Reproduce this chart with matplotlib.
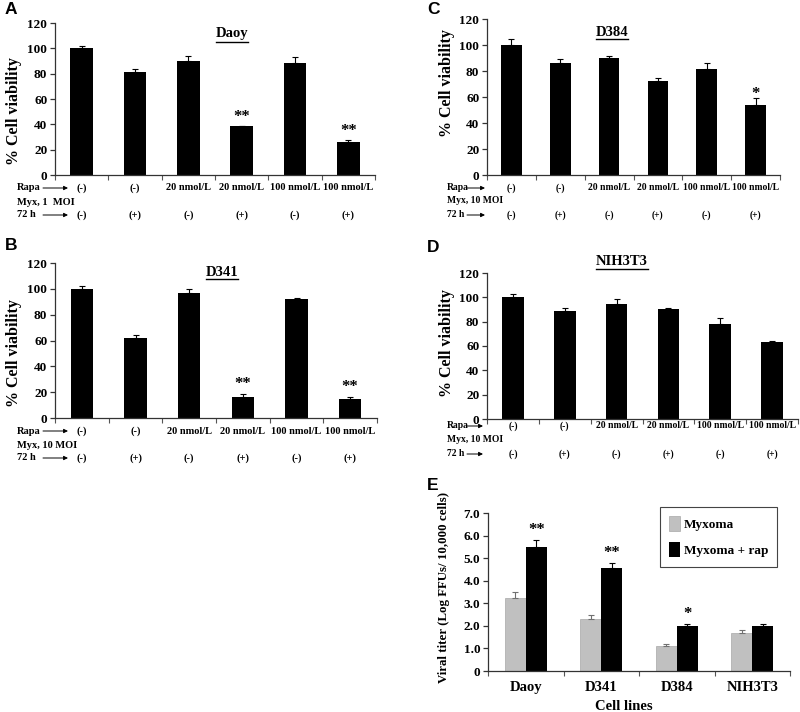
import matplotlib
matplotlib.use('Agg')
import matplotlib.pyplot as plt
from matplotlib.transforms import blended_transform_factory, IdentityTransform
import numpy as np

plt.rcParams['font.family'] = 'Liberation Serif'
plt.rcParams['font.weight'] = 'bold'

W, H = 800, 712

# ---- data ----
rapa_labels = ['(-)', '(-)', '20 nmol/L', '20 nmol/L', '100 nmol/L', '100 nmol/L']
h72_labels = ['(-)', '(+)', '(-)', '(+)', '(-)', '(+)']

daoy_vals = [100, 81, 90, 38.5, 88.5, 26]
daoy_err = [2, 2.5, 4, 0.5, 4.5, 1.5]
daoy_stars = ['', '', '', '**', '', '**']

d341_vals = [100, 62, 96.5, 16, 92.5, 15]
d341_err = [2, 2, 3.5, 2.5, 0.5, 1.5]
d341_stars = ['', '', '', '**', '', '**']

d384_vals = [100, 86, 90, 72.5, 81.5, 53.5]
d384_err = [5, 3, 1.5, 2, 4.5, 6]
d384_stars = ['', '', '', '', '', '*']

nih_vals = [100, 88.5, 94.5, 90.5, 78, 63]
nih_err = [2.5, 3, 4.5, 0.8, 5, 1.5]
nih_stars = ['', '', '', '', '', '']

viab_ticks = [0, 20, 40, 60, 80, 100, 120]

cell_lines = ['Daoy', 'D341', 'D384', 'NIH3T3']
myxoma = [3.25, 2.3, 1.1, 1.7]
myxoma_err = [0.25, 0.2, 0.1, 0.1]
myxoma_rap = [5.5, 4.55, 2.0, 2.0]
myxoma_rap_err = [0.3, 0.22, 0.1, 0.1]
e_stars = ['**', '**', '*', '']
e_ticks = [0, 1, 2, 3, 4, 5, 6, 7]
e_ticklabels = ['0', '1.0', '2.0', '3.0', '4.0', '5.0', '6.0', '7.0']

fig = plt.figure(figsize=(W / 100, H / 100), dpi=100)
pix = IdentityTransform()


def px_axes(x0, y0, x1, y1):
    return fig.add_axes([x0 / W, 1 - y1 / H, (x1 - x0) / W, (y1 - y0) / H])


def style_axes(ax):
    for s in ['top', 'right']:
        ax.spines[s].set_visible(False)
    for s in ['left', 'bottom']:
        ax.spines[s].set_linewidth(0.9)
        ax.spines[s].set_color('#333333')
    ax.tick_params(axis='y', direction='out', length=3.5, width=0.9, labelsize=9.5, pad=2, color='#333333')


underlines = []


def viability_panel(box, letter, letter_xy, title, title_xy, vals, errs, stars,
                    myx_label, ylab_y, row_y, row_x, arrow_x, star_off, row_fs):
    ax = px_axes(*box)
    style_axes(ax)
    x = np.arange(len(vals))
    ax.bar(x, vals, width=0.42, color='black')
    ax.errorbar(x, vals, yerr=[np.zeros(len(errs)), errs], fmt='none',
                ecolor='black', elinewidth=0.8, capsize=2, capthick=0.8)
    ax.set_xlim(-0.5, len(vals) - 0.5)
    ax.set_ylim(0, 120)
    ax.set_yticks(viab_ticks)
    ax.set_xticks([])
    ax.set_xticks(np.arange(len(vals) + 1) - 0.5, minor=True)
    ax.tick_params(axis='x', which='minor', direction='out', length=3.5, width=0.8, color='#555555')
    ax.set_ylabel('% Cell viability', fontsize=11.5, fontweight='bold')
    ax.yaxis.set_label_coords(ylab_y[0], ylab_y[1])
    for xi, v, e, s in zip(x, vals, errs, stars):
        if s:
            ax.annotate(s, (xi, v + e), xytext=(0, star_off), textcoords='offset pixels',
                        ha='center', va='center', fontsize=12, fontweight='bold')
    tr = blended_transform_factory(ax.transData, pix)
    for xi, r, h in zip(x, rapa_labels, h72_labels):
        ax.text(xi, H - row_y[0], r, transform=tr, ha='center', va='center', fontsize=row_fs)
        ax.text(xi, H - row_y[2], h, transform=tr, ha='center', va='center', fontsize=row_fs)
    fig.text(row_x / W, 1 - row_y[0] / H, 'Rapa', ha='left', va='center', fontsize=row_fs)
    fig.text(row_x / W, 1 - row_y[1] / H, myx_label, ha='left', va='center', fontsize=row_fs)
    fig.text(row_x / W, 1 - row_y[2] / H, '72 h', ha='left', va='center', fontsize=row_fs)
    for ry in (row_y[0], row_y[2]):
        ax.annotate('', xy=(arrow_x[1], H - ry), xytext=(arrow_x[0], H - ry),
                    xycoords='figure pixels', textcoords='figure pixels',
                    arrowprops=dict(arrowstyle='-|>', lw=0.7, color='black',
                                    mutation_scale=6, shrinkA=0, shrinkB=0))
    fig.text(letter_xy[0] / W, 1 - letter_xy[1] / H, letter, family='Liberation Sans',
             fontsize=12.5, fontweight='bold', ha='center', va='center')
    t = fig.text(title_xy[0] / W, 1 - title_xy[1] / H, title, fontsize=10.5,
                 fontweight='bold', ha='center', va='center')
    underlines.append((t, title_xy[2]))
    return ax


viability_panel((55, 23, 375, 175), 'A', (11, 9), 'Daoy', (232, 34, 42),
                daoy_vals, daoy_err, daoy_stars, 'Myx, 1  MOI',
                (-33 / 320, 0.42), (188, 202, 215), 17, (43, 68), 9, 7.5)
viability_panel((55, 263, 377, 418), 'B', (11, 246), 'D341', (222, 272, 279),
                d341_vals, d341_err, d341_stars, 'Myx, 10 MOI',
                (-33 / 322, 0.42), (431, 445, 458), 17, (43, 68), 10, 7.5)
viability_panel((487, 19, 780, 175), 'C', (433, 9), 'D384', (612, 32, 39),
                d384_vals, d384_err, d384_stars, 'Myx, 10 MOI',
                (-32 / 293, 0.59), (188, 201, 215), 447, (467, 485), 4, 6.9)
viability_panel((487, 273, 798, 419), 'D', (433, 247), 'NIH3T3', (622, 262, 269),
                nih_vals, nih_err, nih_stars, 'Myx, 10 MOI',
                (-32 / 311, 0.52), (426, 440, 454), 447, (467, 483), 9, 6.9)

# ---- panel E ----
axe = px_axes(488, 513, 790, 671)
style_axes(axe)
xe = np.arange(len(cell_lines))
bw = 0.28
axe.bar(xe - bw / 2, myxoma, width=bw, color='#c0c0c0', edgecolor='#9a9a9a', linewidth=0.4, label='Myxoma')
axe.bar(xe + bw / 2, myxoma_rap, width=bw, color='black', label='Myxoma + rap')
axe.errorbar(xe - bw / 2, myxoma, yerr=[np.zeros(4), myxoma_err], fmt='none',
             ecolor='#707070', elinewidth=0.8, capsize=2, capthick=0.8)
axe.errorbar(xe + bw / 2, myxoma_rap, yerr=[np.zeros(4), myxoma_rap_err], fmt='none',
             ecolor='black', elinewidth=0.8, capsize=2, capthick=0.8)
for xi, v, e, s in zip(xe, myxoma_rap, myxoma_rap_err, e_stars):
    if s:
        axe.annotate(s, (xi + bw / 2, v + e), xytext=(0, 10), textcoords='offset pixels',
                     ha='center', va='center', fontsize=12, fontweight='bold')
axe.set_xlim(-0.5, len(cell_lines) - 0.5)
axe.set_ylim(0, 7)
axe.set_yticks(e_ticks)
axe.set_yticklabels(e_ticklabels)
axe.set_xticks(xe)
axe.set_xticklabels(cell_lines, fontsize=10.5, fontweight='bold')
axe.tick_params(axis='x', which='major', length=0, pad=7)
axe.set_xticks(np.arange(len(cell_lines) + 1) - 0.5, minor=True)
axe.tick_params(axis='x', which='minor', direction='out', length=3.5, width=0.8, color='#555555')
axe.set_ylabel('Viral titer (Log FFUs/ 10,000 cells)', fontsize=9.3, fontweight='bold')
axe.yaxis.set_label_coords(-38 / 302, 0.53)
axe.set_xlabel('Cell lines', fontsize=10.5, fontweight='bold')
axe.xaxis.set_label_coords(0.45, -29 / 158)
leg = axe.legend(loc='upper left', bbox_to_anchor=(660 / W, 1 - 507 / H),
                 bbox_transform=fig.transFigure, fancybox=False, framealpha=1,
                 edgecolor='#444444', borderaxespad=0, prop={'weight': 'bold', 'size': 9.5},
                 handlelength=0.8, handleheight=1.4, handletextpad=0.3,
                 borderpad=0.7, labelspacing=0.8)
leg.get_frame().set_linewidth(0.8)
fig.text(433 / W, 1 - 485 / H, 'E', family='Liberation Sans', fontsize=12.5,
         fontweight='bold', ha='center', va='center')

# underline the cell line titles
fig.canvas.draw()
rend = fig.canvas.get_renderer()
for t, uy in underlines:
    bb = t.get_window_extent(rend)
    fig.add_artist(plt.Line2D([bb.x0, bb.x1], [H - uy, H - uy], transform=pix,
                              color='black', lw=1.0))

fig.savefig('out.png', dpi=100)
